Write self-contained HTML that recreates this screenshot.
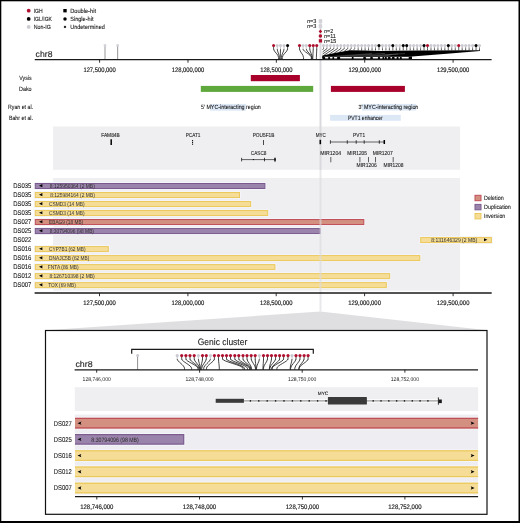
<!DOCTYPE html>
<html><head><meta charset="utf-8"><style>
html,body{margin:0;padding:0;background:#fff;}
svg{display:block;font-family:"Liberation Sans", sans-serif;will-change:transform;text-rendering:geometricPrecision;}
</style></head><body>
<svg width="520" height="523" viewBox="0 0 520 523">
<defs><clipPath id="cl1"><rect x="75" y="300" width="410" height="220"/></clipPath></defs>
<rect x="0.00" y="0.00" width="520.00" height="523.00" fill="#000" />
<rect x="1.30" y="1.30" width="517.20" height="519.70" fill="#fff" />
<circle cx="28.70" cy="10.70" r="1.90" fill="#b0102f"/>
<circle cx="28.70" cy="18.90" r="1.90" fill="#000"/>
<circle cx="28.70" cy="26.90" r="1.90" fill="#cbcbd2"/>
<text x="33.70" y="12.83" font-size="6.1" textLength="9.00" lengthAdjust="spacingAndGlyphs" fill="#1a1a1a" stroke="#1a1a1a" stroke-width="0.1">IGH</text>
<text x="33.70" y="21.03" font-size="6.1" textLength="18.30" lengthAdjust="spacingAndGlyphs" fill="#1a1a1a" stroke="#1a1a1a" stroke-width="0.1">IGL/IGK</text>
<text x="33.70" y="29.03" font-size="6.1" textLength="17.10" lengthAdjust="spacingAndGlyphs" fill="#1a1a1a" stroke="#1a1a1a" stroke-width="0.1">Non-IG</text>
<rect x="63.30" y="9.00" width="3.40" height="3.40" fill="#000" />
<circle cx="65.00" cy="18.90" r="1.75" fill="#000"/>
<polygon points="65,25.5 66.4,26.9 65,28.3 63.6,26.9" fill="#000"/>
<text x="70.20" y="12.83" font-size="6.1" textLength="25.80" lengthAdjust="spacingAndGlyphs" fill="#1a1a1a" stroke="#1a1a1a" stroke-width="0.1">Double-hit</text>
<text x="70.20" y="21.03" font-size="6.1" textLength="23.30" lengthAdjust="spacingAndGlyphs" fill="#1a1a1a" stroke="#1a1a1a" stroke-width="0.1">Single-hit</text>
<text x="70.20" y="29.03" font-size="6.1" textLength="34.60" lengthAdjust="spacingAndGlyphs" fill="#1a1a1a" stroke="#1a1a1a" stroke-width="0.1">Undetermined</text>
<text x="35.60" y="56.50" font-size="8.6" textLength="16.90" lengthAdjust="spacingAndGlyphs" fill="#1a1a1a" stroke="#1a1a1a" stroke-width="0.1">chr8</text>
<line x1="105.00" y1="45.50" x2="105.00" y2="59.60" stroke="#8a8a8a" stroke-width="0.9" />
<rect x="103.75" y="44.20" width="2.50" height="2.50" fill="#d2d2da" />
<line x1="117.65" y1="45.50" x2="117.65" y2="59.60" stroke="#8a8a8a" stroke-width="0.9" />
<rect x="116.40" y="44.20" width="2.50" height="2.50" fill="#d2d2da" />
<line x1="320.50" y1="19.00" x2="320.50" y2="126.50" stroke="#dadade" stroke-width="2.0" />
<path d="M273.60,49.00 C273.60,51.50 278.60,54.60 278.60,57.40 L278.60,59.60" fill="none" stroke="#1a1a1a" stroke-width="0.8"/>
<line x1="273.60" y1="46.50" x2="273.60" y2="49.30" stroke="#2a2a2a" stroke-width="0.8" />
<path d="M277.25,49.00 C277.25,51.50 279.40,54.60 279.40,57.40 L279.40,59.60" fill="none" stroke="#1a1a1a" stroke-width="0.8"/>
<line x1="277.25" y1="46.50" x2="277.25" y2="49.30" stroke="#b8b8bc" stroke-width="0.8" />
<path d="M280.50,49.00 C280.50,51.50 280.30,54.60 280.30,57.40 L280.30,59.60" fill="none" stroke="#1a1a1a" stroke-width="0.8"/>
<line x1="280.50" y1="46.50" x2="280.50" y2="49.30" stroke="#b8b8bc" stroke-width="0.8" />
<path d="M284.00,49.00 C284.00,51.50 281.40,54.60 281.40,57.40 L281.40,59.60" fill="none" stroke="#1a1a1a" stroke-width="0.8"/>
<line x1="284.00" y1="46.50" x2="284.00" y2="49.30" stroke="#b8b8bc" stroke-width="0.8" />
<path d="M287.60,49.00 C287.60,51.50 282.30,54.60 282.30,57.40 L282.30,59.60" fill="none" stroke="#1a1a1a" stroke-width="0.8"/>
<line x1="287.60" y1="46.50" x2="287.60" y2="49.30" stroke="#2a2a2a" stroke-width="0.8" />
<path d="M299.50,49.00 C299.50,51.50 303.50,54.60 303.50,57.40 L303.50,59.60" fill="none" stroke="#1a1a1a" stroke-width="0.8"/>
<line x1="299.50" y1="46.50" x2="299.50" y2="49.30" stroke="#2a2a2a" stroke-width="0.8" />
<path d="M303.00,49.00 C303.00,51.50 311.30,54.60 311.30,57.40 L311.30,59.60" fill="none" stroke="#1a1a1a" stroke-width="0.8"/>
<line x1="303.00" y1="46.50" x2="303.00" y2="49.30" stroke="#b8b8bc" stroke-width="0.8" />
<path d="M306.25,49.00 C306.25,51.50 311.70,54.60 311.70,57.40 L311.70,59.60" fill="none" stroke="#1a1a1a" stroke-width="0.8"/>
<line x1="306.25" y1="46.50" x2="306.25" y2="49.30" stroke="#b8b8bc" stroke-width="0.8" />
<path d="M309.75,49.00 C309.75,51.50 312.20,54.60 312.20,57.40 L312.20,59.60" fill="none" stroke="#1a1a1a" stroke-width="0.8"/>
<line x1="309.75" y1="46.50" x2="309.75" y2="49.30" stroke="#2a2a2a" stroke-width="0.8" />
<path d="M313.25,49.00 C313.25,51.50 312.80,54.60 312.80,57.40 L312.80,59.60" fill="none" stroke="#1a1a1a" stroke-width="0.8"/>
<line x1="313.25" y1="46.50" x2="313.25" y2="49.30" stroke="#2a2a2a" stroke-width="0.8" />
<path d="M316.75,49.00 C316.75,51.50 316.40,54.60 316.40,57.40 L316.40,59.60" fill="none" stroke="#1a1a1a" stroke-width="0.8"/>
<line x1="316.75" y1="46.50" x2="316.75" y2="49.30" stroke="#2a2a2a" stroke-width="0.8" />
<line x1="323.50" y1="46.50" x2="323.50" y2="49.00" stroke="#8a8a8e" stroke-width="0.8" />
<line x1="326.97" y1="46.50" x2="326.97" y2="49.00" stroke="#8a8a8e" stroke-width="0.8" />
<line x1="330.43" y1="46.50" x2="330.43" y2="49.00" stroke="#8a8a8e" stroke-width="0.8" />
<line x1="333.90" y1="46.50" x2="333.90" y2="49.00" stroke="#8a8a8e" stroke-width="0.8" />
<line x1="337.37" y1="46.50" x2="337.37" y2="49.00" stroke="#8a8a8e" stroke-width="0.8" />
<line x1="340.83" y1="46.50" x2="340.83" y2="49.00" stroke="#8a8a8e" stroke-width="0.8" />
<line x1="344.30" y1="46.50" x2="344.30" y2="49.00" stroke="#8a8a8e" stroke-width="0.8" />
<line x1="347.77" y1="46.50" x2="347.77" y2="49.00" stroke="#8a8a8e" stroke-width="0.8" />
<line x1="351.24" y1="46.50" x2="351.24" y2="49.00" stroke="#8a8a8e" stroke-width="0.8" />
<line x1="354.70" y1="46.50" x2="354.70" y2="49.00" stroke="#8a8a8e" stroke-width="0.8" />
<line x1="358.17" y1="46.50" x2="358.17" y2="48.30" stroke="#8a8a8e" stroke-width="0.8" />
<line x1="358.17" y1="48.30" x2="358.17" y2="50.40" stroke="#2a2a2a" stroke-width="0.8" />
<line x1="361.64" y1="46.50" x2="361.64" y2="48.30" stroke="#8a8a8e" stroke-width="0.8" />
<line x1="361.64" y1="48.30" x2="361.64" y2="50.40" stroke="#2a2a2a" stroke-width="0.8" />
<line x1="365.10" y1="46.50" x2="365.10" y2="48.30" stroke="#8a8a8e" stroke-width="0.8" />
<line x1="365.10" y1="48.30" x2="365.10" y2="50.40" stroke="#2a2a2a" stroke-width="0.8" />
<line x1="368.57" y1="46.50" x2="368.57" y2="48.30" stroke="#8a8a8e" stroke-width="0.8" />
<line x1="368.57" y1="48.30" x2="368.57" y2="50.40" stroke="#2a2a2a" stroke-width="0.8" />
<line x1="372.04" y1="46.50" x2="372.04" y2="48.30" stroke="#8a8a8e" stroke-width="0.8" />
<line x1="372.04" y1="48.30" x2="372.04" y2="50.40" stroke="#2a2a2a" stroke-width="0.8" />
<line x1="375.50" y1="46.50" x2="375.50" y2="48.30" stroke="#8a8a8e" stroke-width="0.8" />
<line x1="375.50" y1="48.30" x2="375.50" y2="50.40" stroke="#2a2a2a" stroke-width="0.8" />
<line x1="378.97" y1="46.50" x2="378.97" y2="48.30" stroke="#222" stroke-width="0.8" />
<line x1="378.97" y1="48.30" x2="378.97" y2="50.40" stroke="#2a2a2a" stroke-width="0.8" />
<line x1="382.44" y1="46.50" x2="382.44" y2="48.30" stroke="#8a8a8e" stroke-width="0.8" />
<line x1="382.44" y1="48.30" x2="382.44" y2="50.40" stroke="#2a2a2a" stroke-width="0.8" />
<line x1="385.91" y1="46.50" x2="385.91" y2="48.30" stroke="#8a8a8e" stroke-width="0.8" />
<line x1="385.91" y1="48.30" x2="385.91" y2="50.40" stroke="#2a2a2a" stroke-width="0.8" />
<line x1="389.37" y1="46.50" x2="389.37" y2="48.30" stroke="#8a8a8e" stroke-width="0.8" />
<line x1="389.37" y1="48.30" x2="389.37" y2="50.40" stroke="#2a2a2a" stroke-width="0.8" />
<line x1="392.84" y1="46.50" x2="392.84" y2="48.30" stroke="#222" stroke-width="0.8" />
<line x1="392.84" y1="48.30" x2="392.84" y2="50.40" stroke="#2a2a2a" stroke-width="0.8" />
<line x1="396.31" y1="46.50" x2="396.31" y2="48.30" stroke="#8a8a8e" stroke-width="0.8" />
<line x1="396.31" y1="48.30" x2="396.31" y2="50.40" stroke="#2a2a2a" stroke-width="0.8" />
<line x1="399.77" y1="46.50" x2="399.77" y2="48.30" stroke="#8a8a8e" stroke-width="0.8" />
<line x1="399.77" y1="48.30" x2="399.77" y2="50.40" stroke="#2a2a2a" stroke-width="0.8" />
<line x1="403.24" y1="46.50" x2="403.24" y2="48.30" stroke="#222" stroke-width="0.8" />
<line x1="403.24" y1="48.30" x2="403.24" y2="50.40" stroke="#2a2a2a" stroke-width="0.8" />
<line x1="406.71" y1="46.50" x2="406.71" y2="48.30" stroke="#222" stroke-width="0.8" />
<line x1="406.71" y1="48.30" x2="406.71" y2="50.40" stroke="#2a2a2a" stroke-width="0.8" />
<line x1="410.18" y1="46.50" x2="410.18" y2="48.30" stroke="#8a8a8e" stroke-width="0.8" />
<line x1="410.18" y1="48.30" x2="410.18" y2="50.40" stroke="#2a2a2a" stroke-width="0.8" />
<line x1="413.64" y1="46.50" x2="413.64" y2="48.30" stroke="#8a8a8e" stroke-width="0.8" />
<line x1="413.64" y1="48.30" x2="413.64" y2="50.40" stroke="#2a2a2a" stroke-width="0.8" />
<line x1="417.11" y1="46.50" x2="417.11" y2="48.30" stroke="#8a8a8e" stroke-width="0.8" />
<line x1="417.11" y1="48.30" x2="417.11" y2="50.40" stroke="#2a2a2a" stroke-width="0.8" />
<line x1="420.58" y1="46.50" x2="420.58" y2="48.30" stroke="#8a8a8e" stroke-width="0.8" />
<line x1="420.58" y1="48.30" x2="420.58" y2="50.40" stroke="#2a2a2a" stroke-width="0.8" />
<line x1="424.04" y1="46.50" x2="424.04" y2="48.30" stroke="#222" stroke-width="0.8" />
<line x1="424.04" y1="48.30" x2="424.04" y2="50.40" stroke="#2a2a2a" stroke-width="0.8" />
<line x1="427.51" y1="46.50" x2="427.51" y2="48.30" stroke="#222" stroke-width="0.8" />
<line x1="427.51" y1="48.30" x2="427.51" y2="50.40" stroke="#2a2a2a" stroke-width="0.8" />
<line x1="430.98" y1="46.50" x2="430.98" y2="48.30" stroke="#8a8a8e" stroke-width="0.8" />
<line x1="430.98" y1="48.30" x2="430.98" y2="50.40" stroke="#2a2a2a" stroke-width="0.8" />
<line x1="434.44" y1="46.50" x2="434.44" y2="48.30" stroke="#8a8a8e" stroke-width="0.8" />
<line x1="434.44" y1="48.30" x2="434.44" y2="50.40" stroke="#2a2a2a" stroke-width="0.8" />
<line x1="437.91" y1="46.50" x2="437.91" y2="48.30" stroke="#8a8a8e" stroke-width="0.8" />
<line x1="437.91" y1="48.30" x2="437.91" y2="50.40" stroke="#2a2a2a" stroke-width="0.8" />
<line x1="441.38" y1="46.50" x2="441.38" y2="48.30" stroke="#8a8a8e" stroke-width="0.8" />
<line x1="441.38" y1="48.30" x2="441.38" y2="50.40" stroke="#2a2a2a" stroke-width="0.8" />
<line x1="444.85" y1="46.50" x2="444.85" y2="48.30" stroke="#8a8a8e" stroke-width="0.8" />
<line x1="444.85" y1="48.30" x2="444.85" y2="50.40" stroke="#2a2a2a" stroke-width="0.8" />
<line x1="448.31" y1="46.50" x2="448.31" y2="48.30" stroke="#222" stroke-width="0.8" />
<line x1="448.31" y1="48.30" x2="448.31" y2="50.40" stroke="#2a2a2a" stroke-width="0.8" />
<line x1="451.78" y1="46.50" x2="451.78" y2="48.30" stroke="#8a8a8e" stroke-width="0.8" />
<line x1="451.78" y1="48.30" x2="451.78" y2="50.40" stroke="#2a2a2a" stroke-width="0.8" />
<line x1="455.25" y1="46.50" x2="455.25" y2="48.30" stroke="#8a8a8e" stroke-width="0.8" />
<line x1="455.25" y1="48.30" x2="455.25" y2="50.40" stroke="#2a2a2a" stroke-width="0.8" />
<line x1="458.71" y1="46.50" x2="458.71" y2="48.30" stroke="#222" stroke-width="0.8" />
<line x1="458.71" y1="48.30" x2="458.71" y2="50.40" stroke="#2a2a2a" stroke-width="0.8" />
<line x1="462.18" y1="46.50" x2="462.18" y2="48.30" stroke="#8a8a8e" stroke-width="0.8" />
<line x1="462.18" y1="48.30" x2="462.18" y2="50.40" stroke="#2a2a2a" stroke-width="0.8" />
<line x1="465.65" y1="46.50" x2="465.65" y2="48.30" stroke="#8a8a8e" stroke-width="0.8" />
<line x1="465.65" y1="48.30" x2="465.65" y2="50.40" stroke="#2a2a2a" stroke-width="0.8" />
<line x1="469.11" y1="46.50" x2="469.11" y2="48.30" stroke="#8a8a8e" stroke-width="0.8" />
<line x1="469.11" y1="48.30" x2="469.11" y2="50.40" stroke="#2a2a2a" stroke-width="0.8" />
<line x1="472.58" y1="46.50" x2="472.58" y2="48.30" stroke="#8a8a8e" stroke-width="0.8" />
<line x1="472.58" y1="48.30" x2="472.58" y2="50.40" stroke="#2a2a2a" stroke-width="0.8" />
<line x1="476.05" y1="46.50" x2="476.05" y2="48.30" stroke="#222" stroke-width="0.8" />
<line x1="476.05" y1="48.30" x2="476.05" y2="50.40" stroke="#2a2a2a" stroke-width="0.8" />
<line x1="479.51" y1="46.50" x2="479.51" y2="48.30" stroke="#8a8a8e" stroke-width="0.8" />
<line x1="479.51" y1="48.30" x2="479.51" y2="50.40" stroke="#2a2a2a" stroke-width="0.8" />
<polygon points="322.3,55.4 336,52.8 350,50.3 365,50.5 380,51.0 393,50.8 420,50.5 480,50.2 480,50.9 450,53.6 412,56.4 324,56.6 322.3,59" fill="#000"/>
<line x1="323.50" y1="48.6" x2="322.60" y2="49.84" stroke="#111" stroke-width="0.7"/>
<line x1="326.97" y1="48.6" x2="322.60" y2="51.92" stroke="#111" stroke-width="0.7"/>
<line x1="330.43" y1="48.6" x2="322.60" y2="54.00" stroke="#111" stroke-width="0.7"/>
<line x1="333.90" y1="48.6" x2="323.53" y2="55.52" stroke="#111" stroke-width="0.7"/>
<line x1="337.37" y1="48.6" x2="328.55" y2="54.59" stroke="#111" stroke-width="0.7"/>
<line x1="340.83" y1="48.6" x2="333.58" y2="53.65" stroke="#111" stroke-width="0.7"/>
<line x1="344.30" y1="48.6" x2="338.60" y2="52.72" stroke="#111" stroke-width="0.7"/>
<line x1="347.77" y1="48.6" x2="343.63" y2="51.79" stroke="#111" stroke-width="0.7"/>
<line x1="351.24" y1="48.6" x2="348.65" y2="50.85" stroke="#111" stroke-width="0.7"/>
<line x1="354.70" y1="48.6" x2="353.68" y2="49.92" stroke="#111" stroke-width="0.7"/>
<line x1="405.00" y1="53.60" x2="356.00" y2="56.40" stroke="#777" stroke-width="0.45" />
<line x1="398.00" y1="54.00" x2="372.00" y2="56.40" stroke="#777" stroke-width="0.45" />
<line x1="392.00" y1="54.40" x2="384.00" y2="56.40" stroke="#777" stroke-width="0.45" />
<line x1="385.00" y1="53.40" x2="345.00" y2="56.20" stroke="#777" stroke-width="0.45" />
<line x1="372.00" y1="53.60" x2="335.00" y2="56.20" stroke="#777" stroke-width="0.45" />
<rect x="322.50" y="56.40" width="89.50" height="2.80" fill="#000" />
<rect x="324.90" y="57.05" width="3.50" height="1.45" fill="#fff" rx="0.7"/>
<rect x="329.80" y="57.05" width="2.90" height="1.45" fill="#fff" rx="0.7"/>
<rect x="333.90" y="57.05" width="3.40" height="1.45" fill="#fff" rx="0.7"/>
<rect x="339.90" y="57.05" width="12.10" height="1.45" fill="#fff" rx="0.7"/>
<rect x="353.30" y="57.05" width="10.20" height="1.45" fill="#fff" rx="0.7"/>
<rect x="365.70" y="57.05" width="4.80" height="1.45" fill="#fff" rx="0.7"/>
<rect x="372.60" y="57.05" width="5.60" height="1.45" fill="#fff" rx="0.7"/>
<rect x="379.80" y="57.05" width="2.90" height="1.45" fill="#fff" rx="0.7"/>
<rect x="384.10" y="57.05" width="1.00" height="1.45" fill="#fff" rx="0.7"/>
<rect x="386.60" y="57.05" width="1.60" height="1.45" fill="#fff" rx="0.7"/>
<rect x="390.30" y="57.05" width="1.90" height="1.45" fill="#fff" rx="0.7"/>
<rect x="394.30" y="57.05" width="2.60" height="1.45" fill="#fff" rx="0.7"/>
<rect x="398.30" y="57.05" width="1.80" height="1.45" fill="#fff" rx="0.7"/>
<rect x="401.50" y="57.05" width="7.40" height="1.45" fill="#fff" rx="0.7"/>
<circle cx="273.60" cy="45.50" r="1.55" fill="#b0102f"/>
<circle cx="277.25" cy="45.50" r="1.55" fill="#cbcbd2"/>
<circle cx="280.50" cy="45.50" r="1.55" fill="#cbcbd2"/>
<circle cx="284.00" cy="45.50" r="1.55" fill="#cbcbd2"/>
<circle cx="287.60" cy="45.50" r="1.55" fill="#000"/>
<circle cx="299.50" cy="45.50" r="1.55" fill="#b0102f"/>
<circle cx="303.00" cy="45.50" r="1.55" fill="#cbcbd2"/>
<circle cx="306.25" cy="45.50" r="1.55" fill="#cbcbd2"/>
<circle cx="309.75" cy="45.50" r="1.55" fill="#b0102f"/>
<circle cx="313.25" cy="45.50" r="1.55" fill="#b0102f"/>
<circle cx="316.75" cy="45.50" r="1.55" fill="#b0102f"/>
<circle cx="323.50" cy="45.50" r="1.55" fill="#cbcbd2"/>
<circle cx="326.97" cy="45.50" r="1.55" fill="#cbcbd2"/>
<circle cx="330.43" cy="45.50" r="1.55" fill="#cbcbd2"/>
<circle cx="333.90" cy="45.50" r="1.55" fill="#cbcbd2"/>
<circle cx="337.37" cy="45.50" r="1.55" fill="#cbcbd2"/>
<circle cx="340.83" cy="45.50" r="1.55" fill="#cbcbd2"/>
<circle cx="344.30" cy="45.50" r="1.55" fill="#cbcbd2"/>
<circle cx="347.77" cy="45.50" r="1.55" fill="#cbcbd2"/>
<circle cx="351.24" cy="45.50" r="1.55" fill="#cbcbd2"/>
<circle cx="354.70" cy="45.50" r="1.55" fill="#cbcbd2"/>
<circle cx="358.17" cy="45.50" r="1.55" fill="#cbcbd2"/>
<circle cx="361.64" cy="45.50" r="1.55" fill="#cbcbd2"/>
<circle cx="365.10" cy="45.50" r="1.55" fill="#cbcbd2"/>
<circle cx="368.57" cy="45.50" r="1.55" fill="#cbcbd2"/>
<circle cx="372.04" cy="45.50" r="1.55" fill="#cbcbd2"/>
<circle cx="375.50" cy="45.50" r="1.55" fill="#cbcbd2"/>
<circle cx="378.97" cy="45.50" r="1.55" fill="#000"/>
<circle cx="382.44" cy="45.50" r="1.55" fill="#cbcbd2"/>
<circle cx="385.91" cy="45.50" r="1.55" fill="#cbcbd2"/>
<circle cx="389.37" cy="45.50" r="1.55" fill="#cbcbd2"/>
<circle cx="392.84" cy="45.50" r="1.55" fill="#000"/>
<circle cx="396.31" cy="45.50" r="1.55" fill="#cbcbd2"/>
<circle cx="399.77" cy="45.50" r="1.55" fill="#cbcbd2"/>
<circle cx="403.24" cy="45.50" r="1.55" fill="#000"/>
<circle cx="406.71" cy="45.50" r="1.55" fill="#000"/>
<circle cx="410.18" cy="45.50" r="1.55" fill="#cbcbd2"/>
<circle cx="413.64" cy="45.50" r="1.55" fill="#cbcbd2"/>
<circle cx="417.11" cy="45.50" r="1.55" fill="#cbcbd2"/>
<circle cx="420.58" cy="45.50" r="1.55" fill="#cbcbd2"/>
<circle cx="424.04" cy="45.50" r="1.55" fill="#000"/>
<circle cx="427.51" cy="45.50" r="1.55" fill="#b0102f"/>
<circle cx="430.98" cy="45.50" r="1.55" fill="#cbcbd2"/>
<circle cx="434.44" cy="45.50" r="1.55" fill="#cbcbd2"/>
<circle cx="437.91" cy="45.50" r="1.55" fill="#cbcbd2"/>
<circle cx="441.38" cy="45.50" r="1.55" fill="#cbcbd2"/>
<circle cx="444.85" cy="45.50" r="1.55" fill="#cbcbd2"/>
<circle cx="448.31" cy="45.50" r="1.55" fill="#000"/>
<circle cx="451.78" cy="45.50" r="1.55" fill="#cbcbd2"/>
<circle cx="455.25" cy="45.50" r="1.55" fill="#cbcbd2"/>
<circle cx="458.71" cy="45.50" r="1.55" fill="#b0102f"/>
<circle cx="462.18" cy="45.50" r="1.55" fill="#cbcbd2"/>
<circle cx="465.65" cy="45.50" r="1.55" fill="#cbcbd2"/>
<circle cx="469.11" cy="45.50" r="1.55" fill="#cbcbd2"/>
<circle cx="472.58" cy="45.50" r="1.55" fill="#cbcbd2"/>
<circle cx="476.05" cy="45.50" r="1.55" fill="#000"/>
<circle cx="479.51" cy="45.50" r="1.55" fill="#cbcbd2"/>
<line x1="34.75" y1="59.60" x2="491.60" y2="59.60" stroke="#1a1a1a" stroke-width="1.3" />
<line x1="99.60" y1="59.60" x2="99.60" y2="62.70" stroke="#1a1a1a" stroke-width="0.9" />
<text x="83.40" y="71.61" font-size="6.6" textLength="32.40" lengthAdjust="spacingAndGlyphs" fill="#1a1a1a" stroke="#1a1a1a" stroke-width="0.18">127,500,000</text>
<line x1="187.97" y1="59.60" x2="187.97" y2="62.70" stroke="#1a1a1a" stroke-width="0.9" />
<text x="171.78" y="71.61" font-size="6.6" textLength="32.40" lengthAdjust="spacingAndGlyphs" fill="#1a1a1a" stroke="#1a1a1a" stroke-width="0.18">128,000,000</text>
<line x1="276.35" y1="59.60" x2="276.35" y2="62.70" stroke="#1a1a1a" stroke-width="0.9" />
<text x="260.15" y="71.61" font-size="6.6" textLength="32.40" lengthAdjust="spacingAndGlyphs" fill="#1a1a1a" stroke="#1a1a1a" stroke-width="0.18">128,500,000</text>
<line x1="364.73" y1="59.60" x2="364.73" y2="62.70" stroke="#1a1a1a" stroke-width="0.9" />
<text x="348.53" y="71.61" font-size="6.6" textLength="32.40" lengthAdjust="spacingAndGlyphs" fill="#1a1a1a" stroke="#1a1a1a" stroke-width="0.18">129,000,000</text>
<line x1="453.10" y1="59.60" x2="453.10" y2="62.70" stroke="#1a1a1a" stroke-width="0.9" />
<text x="436.90" y="71.61" font-size="6.6" textLength="32.40" lengthAdjust="spacingAndGlyphs" fill="#1a1a1a" stroke="#1a1a1a" stroke-width="0.18">129,500,000</text>
<rect x="318.70" y="19.30" width="3.50" height="3.60" fill="#d2d2d8" />
<rect x="318.70" y="24.30" width="3.50" height="3.60" fill="#d2d2d8" />
<polygon points="320.4,29.6 322.2,31.4 320.4,33.2 318.6,31.4" fill="#b0102f"/>
<circle cx="320.40" cy="36.00" r="1.75" fill="#b0102f"/>
<rect x="318.80" y="39.20" width="3.30" height="3.30" fill="#b0102f" />
<text x="306.90" y="23.30" font-size="5.7" textLength="9.40" lengthAdjust="spacingAndGlyphs" fill="#1a1a1a" stroke="#1a1a1a" stroke-width="0.1"><tspan font-style="italic">n</tspan>=3</text>
<text x="306.90" y="28.10" font-size="5.7" textLength="9.40" lengthAdjust="spacingAndGlyphs" fill="#1a1a1a" stroke="#1a1a1a" stroke-width="0.1"><tspan font-style="italic">n</tspan>=3</text>
<text x="324.10" y="33.39" font-size="5.7" textLength="9.00" lengthAdjust="spacingAndGlyphs" fill="#1a1a1a" stroke="#1a1a1a" stroke-width="0.1"><tspan font-style="italic">n</tspan>=2</text>
<text x="324.10" y="38.09" font-size="5.7" textLength="11.70" lengthAdjust="spacingAndGlyphs" fill="#1a1a1a" stroke="#1a1a1a" stroke-width="0.1"><tspan font-style="italic">n</tspan>=11</text>
<text x="324.10" y="42.89" font-size="5.7" textLength="12.10" lengthAdjust="spacingAndGlyphs" fill="#1a1a1a" stroke="#1a1a1a" stroke-width="0.1"><tspan font-style="italic">n</tspan>=15</text>
<text x="19.20" y="80.14" font-size="6.1" textLength="12.40" lengthAdjust="spacingAndGlyphs" fill="#1a1a1a" stroke="#1a1a1a" stroke-width="0.1">Vysis</text>
<text x="19.00" y="91.34" font-size="6.1" textLength="12.60" lengthAdjust="spacingAndGlyphs" fill="#1a1a1a" stroke="#1a1a1a" stroke-width="0.1">Dako</text>
<text x="8.00" y="109.34" font-size="6.1" textLength="25.00" lengthAdjust="spacingAndGlyphs" fill="#1a1a1a" stroke="#1a1a1a" stroke-width="0.1">Ryan et al.</text>
<text x="8.90" y="120.14" font-size="6.1" textLength="24.10" lengthAdjust="spacingAndGlyphs" fill="#1a1a1a" stroke="#1a1a1a" stroke-width="0.1">Bahr et al.</text>
<rect x="250.80" y="75.00" width="49.10" height="6.20" fill="#a8002b" />
<rect x="200.80" y="85.90" width="112.40" height="6.00" fill="#5fa83c" />
<rect x="330.90" y="85.90" width="74.00" height="6.00" fill="#a8002b" />
<rect x="210.00" y="103.90" width="36.00" height="6.80" fill="#dde8f6" />
<rect x="361.90" y="103.90" width="54.30" height="6.60" fill="#dde8f6" />
<rect x="330.10" y="114.90" width="70.70" height="5.90" fill="#dde8f6" />
<text x="201.00" y="109.44" font-size="6.1" textLength="59.80" lengthAdjust="spacingAndGlyphs" fill="#1a1a1a" stroke="#1a1a1a" stroke-width="0.1">5' MYC-interacting region</text>
<text x="358.50" y="109.44" font-size="6.1" textLength="59.80" lengthAdjust="spacingAndGlyphs" fill="#1a1a1a" stroke="#1a1a1a" stroke-width="0.1">3' MYC-interacting region</text>
<text x="347.90" y="120.23" font-size="6.1" textLength="34.90" lengthAdjust="spacingAndGlyphs" fill="#1a1a1a" stroke="#1a1a1a" stroke-width="0.1">PVT1 enhancer</text>
<rect x="53.10" y="126.50" width="406.90" height="43.30" fill="#efeff2" />
<line x1="320.50" y1="126.00" x2="320.50" y2="170.00" stroke="#dadade" stroke-width="2.0" />
<text x="101.20" y="137.43" font-size="5.8" textLength="18.60" lengthAdjust="spacingAndGlyphs" fill="#1a1a1a" stroke="#1a1a1a" stroke-width="0.1">FAM84B</text>
<line x1="111.20" y1="139.20" x2="111.20" y2="145.00" stroke="#000" stroke-width="1.5" />
<text x="185.70" y="137.43" font-size="5.8" textLength="14.80" lengthAdjust="spacingAndGlyphs" fill="#1a1a1a" stroke="#1a1a1a" stroke-width="0.1">PCAT1</text>
<line x1="192.60" y1="140.00" x2="192.60" y2="145.30" stroke="#000" stroke-width="1.0" stroke-dasharray="1.2 0.6"/>
<text x="252.70" y="137.43" font-size="5.8" textLength="21.70" lengthAdjust="spacingAndGlyphs" fill="#1a1a1a" stroke="#1a1a1a" stroke-width="0.1">POU5F1B</text>
<line x1="263.50" y1="140.00" x2="263.50" y2="145.00" stroke="#000" stroke-width="0.7" />
<text x="250.80" y="155.43" font-size="5.8" textLength="15.70" lengthAdjust="spacingAndGlyphs" fill="#1a1a1a" stroke="#1a1a1a" stroke-width="0.1">CASC8</text>
<line x1="241.60" y1="159.60" x2="275.80" y2="159.60" stroke="#000" stroke-width="0.6" />
<line x1="241.60" y1="157.80" x2="241.60" y2="161.40" stroke="#000" stroke-width="0.7" />
<line x1="264.50" y1="157.80" x2="264.50" y2="161.40" stroke="#000" stroke-width="0.7" />
<line x1="253.40" y1="159.10" x2="253.40" y2="160.10" stroke="#000" stroke-width="1.0" />
<line x1="275.00" y1="157.80" x2="275.00" y2="161.40" stroke="#000" stroke-width="1.4" />
<text x="315.70" y="137.43" font-size="5.8" textLength="10.20" lengthAdjust="spacingAndGlyphs" fill="#1a1a1a" stroke="#1a1a1a" stroke-width="0.1">MYC</text>
<line x1="320.30" y1="139.80" x2="320.30" y2="144.20" stroke="#000" stroke-width="1.6" />
<text x="353.10" y="137.43" font-size="5.8" textLength="12.00" lengthAdjust="spacingAndGlyphs" fill="#1a1a1a" stroke="#1a1a1a" stroke-width="0.1">PVT1</text>
<line x1="330.40" y1="142.00" x2="385.00" y2="142.00" stroke="#000" stroke-width="0.6" />
<line x1="330.40" y1="140.20" x2="330.40" y2="143.80" stroke="#000" stroke-width="0.7" />
<line x1="347.30" y1="140.20" x2="347.30" y2="143.80" stroke="#000" stroke-width="0.7" />
<line x1="356.20" y1="140.20" x2="356.20" y2="143.80" stroke="#000" stroke-width="0.7" />
<line x1="364.20" y1="140.20" x2="364.20" y2="143.80" stroke="#000" stroke-width="0.7" />
<line x1="379.30" y1="140.20" x2="379.30" y2="143.80" stroke="#000" stroke-width="0.7" />
<line x1="384.30" y1="140.00" x2="384.30" y2="144.00" stroke="#000" stroke-width="1.5" />
<text x="320.30" y="155.23" font-size="5.8" textLength="20.80" lengthAdjust="spacingAndGlyphs" fill="#1a1a1a" stroke="#1a1a1a" stroke-width="0.1">MIR1204</text>
<text x="347.30" y="155.23" font-size="5.8" textLength="19.70" lengthAdjust="spacingAndGlyphs" fill="#1a1a1a" stroke="#1a1a1a" stroke-width="0.1">MIR1205</text>
<text x="372.70" y="155.23" font-size="5.8" textLength="20.10" lengthAdjust="spacingAndGlyphs" fill="#1a1a1a" stroke="#1a1a1a" stroke-width="0.1">MIR1207</text>
<text x="356.60" y="167.43" font-size="5.8" textLength="20.10" lengthAdjust="spacingAndGlyphs" fill="#1a1a1a" stroke="#1a1a1a" stroke-width="0.1">MIR1206</text>
<text x="383.60" y="167.43" font-size="5.8" textLength="19.90" lengthAdjust="spacingAndGlyphs" fill="#1a1a1a" stroke="#1a1a1a" stroke-width="0.1">MIR1208</text>
<line x1="330.80" y1="157.00" x2="330.80" y2="162.30" stroke="#000" stroke-width="0.6" />
<line x1="359.90" y1="157.00" x2="359.90" y2="162.30" stroke="#000" stroke-width="0.6" />
<line x1="368.50" y1="157.00" x2="368.50" y2="162.30" stroke="#000" stroke-width="0.6" />
<line x1="375.50" y1="157.00" x2="375.50" y2="162.30" stroke="#000" stroke-width="0.6" />
<line x1="393.20" y1="157.00" x2="393.20" y2="162.30" stroke="#000" stroke-width="0.6" />
<rect x="53.10" y="178.00" width="406.90" height="112.70" fill="#efeff2" />
<text x="13.20" y="188.08" font-size="6.8" textLength="18.20" lengthAdjust="spacingAndGlyphs" fill="#1a1a1a" stroke="#1a1a1a" stroke-width="0.1">DS035</text>
<rect x="33.90" y="182.10" width="232.40" height="7.80" fill="#f4f5fa" />
<rect x="35.30" y="183.50" width="229.60" height="5.00" fill="#9b84ab" stroke="#7a5a8e" stroke-width="1.0" />
<polygon points="39.0,185.70 42.4,184.10 42.4,187.30" fill="#000"/>
<text x="49.80" y="187.76" font-size="5.9" textLength="45.00" lengthAdjust="spacingAndGlyphs" fill="#2a2a2a">8:125950364 (2 MB)</text>
<text x="13.20" y="197.09" font-size="6.8" textLength="18.20" lengthAdjust="spacingAndGlyphs" fill="#1a1a1a" stroke="#1a1a1a" stroke-width="0.1">DS035</text>
<rect x="33.90" y="191.11" width="207.00" height="7.80" fill="#f4f5fa" />
<rect x="35.30" y="192.51" width="204.20" height="5.00" fill="#f5dd98" stroke="#ecc95c" stroke-width="1.0" />
<polygon points="39.0,194.71 42.4,193.11 42.4,196.31" fill="#000"/>
<text x="50.20" y="196.77" font-size="5.9" textLength="44.60" lengthAdjust="spacingAndGlyphs" fill="#2a2a2a">8:125984164 (2 MB)</text>
<text x="13.20" y="206.10" font-size="6.8" textLength="18.20" lengthAdjust="spacingAndGlyphs" fill="#1a1a1a" stroke="#1a1a1a" stroke-width="0.1">DS035</text>
<rect x="33.90" y="200.12" width="218.20" height="7.80" fill="#f4f5fa" />
<rect x="35.30" y="201.52" width="215.40" height="5.00" fill="#f5dd98" stroke="#ecc95c" stroke-width="1.0" />
<polygon points="39.0,203.72 42.4,202.12 42.4,205.32" fill="#000"/>
<text x="49.10" y="205.78" font-size="5.9" textLength="35.40" lengthAdjust="spacingAndGlyphs" fill="#2a2a2a">CSMD3 (14 MB)</text>
<text x="13.20" y="215.11" font-size="6.8" textLength="18.20" lengthAdjust="spacingAndGlyphs" fill="#1a1a1a" stroke="#1a1a1a" stroke-width="0.1">DS035</text>
<rect x="33.90" y="209.13" width="235.20" height="7.80" fill="#f4f5fa" />
<rect x="35.30" y="210.53" width="232.40" height="5.00" fill="#f5dd98" stroke="#ecc95c" stroke-width="1.0" />
<polygon points="39.0,212.73 42.4,211.13 42.4,214.33" fill="#000"/>
<text x="49.10" y="214.79" font-size="5.9" textLength="35.40" lengthAdjust="spacingAndGlyphs" fill="#2a2a2a">CSMD3 (14 MB)</text>
<text x="13.20" y="224.12" font-size="6.8" textLength="18.20" lengthAdjust="spacingAndGlyphs" fill="#1a1a1a" stroke="#1a1a1a" stroke-width="0.1">DS027</text>
<rect x="33.90" y="218.14" width="331.30" height="7.80" fill="#f4f5fa" />
<rect x="35.30" y="219.54" width="328.50" height="5.00" fill="#d38f80" stroke="#c04e58" stroke-width="1.0" />
<polygon points="39.0,221.74 42.4,220.14 42.4,223.34" fill="#000"/>
<text x="49.10" y="223.80" font-size="5.9" textLength="34.10" lengthAdjust="spacingAndGlyphs" fill="#2a2a2a">EBAG9 (18 MB)</text>
<text x="13.20" y="233.13" font-size="6.8" textLength="18.20" lengthAdjust="spacingAndGlyphs" fill="#1a1a1a" stroke="#1a1a1a" stroke-width="0.1">DS025</text>
<rect x="33.90" y="227.15" width="287.60" height="7.80" fill="#f4f5fa" />
<rect x="35.30" y="228.55" width="284.80" height="5.00" fill="#9b84ab" stroke="#7a5a8e" stroke-width="1.0" />
<polygon points="39.0,230.75 42.4,229.15 42.4,232.35" fill="#000"/>
<text x="49.80" y="232.81" font-size="5.9" textLength="44.20" lengthAdjust="spacingAndGlyphs" fill="#2a2a2a">8:30794096 (98 MB)</text>
<text x="13.20" y="242.14" font-size="6.8" textLength="18.20" lengthAdjust="spacingAndGlyphs" fill="#1a1a1a" stroke="#1a1a1a" stroke-width="0.1">DS022</text>
<text x="13.20" y="251.15" font-size="6.8" textLength="18.20" lengthAdjust="spacingAndGlyphs" fill="#1a1a1a" stroke="#1a1a1a" stroke-width="0.1">DS016</text>
<rect x="33.90" y="245.17" width="75.80" height="7.80" fill="#f4f5fa" />
<rect x="35.30" y="246.57" width="73.00" height="5.00" fill="#f5dd98" stroke="#ecc95c" stroke-width="1.0" />
<polygon points="39.0,248.77 42.4,247.17 42.4,250.37" fill="#000"/>
<text x="49.10" y="250.83" font-size="5.9" textLength="36.40" lengthAdjust="spacingAndGlyphs" fill="#2a2a2a">CYP7B1 (62 MB)</text>
<text x="13.20" y="260.16" font-size="6.8" textLength="18.20" lengthAdjust="spacingAndGlyphs" fill="#1a1a1a" stroke="#1a1a1a" stroke-width="0.1">DS016</text>
<rect x="33.90" y="254.18" width="387.30" height="7.80" fill="#f4f5fa" />
<rect x="35.30" y="255.58" width="384.50" height="5.00" fill="#f5dd98" stroke="#ecc95c" stroke-width="1.0" />
<polygon points="39.0,257.78 42.4,256.18 42.4,259.38" fill="#000"/>
<text x="49.10" y="259.84" font-size="5.9" textLength="40.30" lengthAdjust="spacingAndGlyphs" fill="#2a2a2a">DNAJC5B (62 MB)</text>
<text x="13.20" y="269.17" font-size="6.8" textLength="18.20" lengthAdjust="spacingAndGlyphs" fill="#1a1a1a" stroke="#1a1a1a" stroke-width="0.1">DS016</text>
<rect x="33.90" y="263.19" width="242.40" height="7.80" fill="#f4f5fa" />
<rect x="35.30" y="264.59" width="239.60" height="5.00" fill="#f5dd98" stroke="#ecc95c" stroke-width="1.0" />
<polygon points="39.0,266.79 42.4,265.19 42.4,268.39" fill="#000"/>
<text x="47.80" y="268.85" font-size="5.9" textLength="30.80" lengthAdjust="spacingAndGlyphs" fill="#2a2a2a">FNTA (86 MB)</text>
<text x="13.20" y="278.18" font-size="6.8" textLength="18.20" lengthAdjust="spacingAndGlyphs" fill="#1a1a1a" stroke="#1a1a1a" stroke-width="0.1">DS012</text>
<rect x="33.90" y="272.20" width="357.20" height="7.80" fill="#f4f5fa" />
<rect x="35.30" y="273.60" width="354.40" height="5.00" fill="#f5dd98" stroke="#ecc95c" stroke-width="1.0" />
<polygon points="39.0,275.80 42.4,274.20 42.4,277.40" fill="#000"/>
<text x="49.40" y="277.86" font-size="5.9" textLength="45.40" lengthAdjust="spacingAndGlyphs" fill="#2a2a2a">8:126710398 (2 MB)</text>
<text x="13.20" y="287.19" font-size="6.8" textLength="18.20" lengthAdjust="spacingAndGlyphs" fill="#1a1a1a" stroke="#1a1a1a" stroke-width="0.1">DS007</text>
<rect x="33.90" y="281.21" width="353.80" height="7.80" fill="#f4f5fa" />
<rect x="35.30" y="282.61" width="351.00" height="5.00" fill="#f5dd98" stroke="#ecc95c" stroke-width="1.0" />
<polygon points="39.0,284.81 42.4,283.21 42.4,286.41" fill="#000"/>
<text x="48.20" y="286.88" font-size="5.9" textLength="27.60" lengthAdjust="spacingAndGlyphs" fill="#2a2a2a">TOX (69 MB)</text>
<rect x="419.30" y="236.16" width="73.50" height="7.80" fill="#f4f5fa" />
<rect x="420.70" y="237.56" width="70.70" height="5.00" fill="#f5dd98" stroke="#ecc95c" stroke-width="1.0" />
<text x="431.20" y="241.82" font-size="5.9" textLength="46.10" lengthAdjust="spacingAndGlyphs" fill="#2a2a2a">8:131646329 (2 MB)</text>
<polygon points="487.4,239.76 484.0,238.16 484.0,241.36" fill="#000"/>
<rect x="475.00" y="195.30" width="6.00" height="5.40" fill="#d38f80" stroke="#c04e58" stroke-width="1.0" />
<text x="484.00" y="199.87" font-size="6.2" textLength="19.70" lengthAdjust="spacingAndGlyphs" fill="#1a1a1a" stroke="#1a1a1a" stroke-width="0.1">Deletion</text>
<rect x="475.00" y="204.40" width="6.00" height="5.40" fill="#9b84ab" stroke="#7a5a8e" stroke-width="1.0" />
<text x="484.00" y="208.97" font-size="6.2" textLength="26.90" lengthAdjust="spacingAndGlyphs" fill="#1a1a1a" stroke="#1a1a1a" stroke-width="0.1">Duplication</text>
<rect x="475.00" y="213.50" width="6.00" height="5.40" fill="#f5dd98" stroke="#ecc95c" stroke-width="1.0" />
<text x="484.00" y="218.07" font-size="6.2" textLength="21.20" lengthAdjust="spacingAndGlyphs" fill="#1a1a1a" stroke="#1a1a1a" stroke-width="0.1">Inversion</text>
<line x1="320.50" y1="170.00" x2="320.50" y2="311.50" stroke="#dadade" stroke-width="2.0" opacity="0.6"/>
<line x1="34.60" y1="293.10" x2="491.70" y2="293.10" stroke="#1a1a1a" stroke-width="1.5" />
<line x1="99.50" y1="293.10" x2="99.50" y2="296.20" stroke="#1a1a1a" stroke-width="0.9" />
<text x="83.20" y="305.21" font-size="6.6" textLength="32.60" lengthAdjust="spacingAndGlyphs" fill="#1a1a1a" stroke="#1a1a1a" stroke-width="0.18">127,500,000</text>
<line x1="187.90" y1="293.10" x2="187.90" y2="296.20" stroke="#1a1a1a" stroke-width="0.9" />
<text x="171.60" y="305.21" font-size="6.6" textLength="32.60" lengthAdjust="spacingAndGlyphs" fill="#1a1a1a" stroke="#1a1a1a" stroke-width="0.18">128,000,000</text>
<line x1="276.20" y1="293.10" x2="276.20" y2="296.20" stroke="#1a1a1a" stroke-width="0.9" />
<text x="259.90" y="305.21" font-size="6.6" textLength="32.60" lengthAdjust="spacingAndGlyphs" fill="#1a1a1a" stroke="#1a1a1a" stroke-width="0.18">128,500,000</text>
<line x1="364.60" y1="293.10" x2="364.60" y2="296.20" stroke="#1a1a1a" stroke-width="0.9" />
<text x="348.30" y="305.21" font-size="6.6" textLength="32.60" lengthAdjust="spacingAndGlyphs" fill="#1a1a1a" stroke="#1a1a1a" stroke-width="0.18">129,000,000</text>
<line x1="453.10" y1="293.10" x2="453.10" y2="296.20" stroke="#1a1a1a" stroke-width="0.9" />
<text x="436.80" y="305.21" font-size="6.6" textLength="32.60" lengthAdjust="spacingAndGlyphs" fill="#1a1a1a" stroke="#1a1a1a" stroke-width="0.18">129,500,000</text>
<polygon points="320.4,311.5 487,330.2 45.5,330.2" fill="#dfdfe2"/>
<rect x="45.50" y="330.50" width="441.50" height="183.80" fill="#fff" stroke="#111" stroke-width="1.2" />
<text x="75.40" y="366.90" font-size="8.6" textLength="17.30" lengthAdjust="spacingAndGlyphs" fill="#1a1a1a" stroke="#1a1a1a" stroke-width="0.1">chr8</text>
<polyline points="131.7,353.8 131.7,349.3 313.3,349.3 313.3,353.8" fill="none" stroke="#1a1a1a" stroke-width="1.2"/>
<text x="197.70" y="345.00" font-size="9.2" textLength="49.60" lengthAdjust="spacingAndGlyphs" fill="#1a1a1a" stroke="#1a1a1a" stroke-width="0.1">Genic cluster</text>
<line x1="137.60" y1="356.50" x2="137.60" y2="369.80" stroke="#858585" stroke-width="0.9" />
<circle cx="137.60" cy="355.60" r="1.50" fill="#c8c8d0"/>
<path d="M177.20,359.0 C177.20,361.5 184.50,365.30 184.50,368.30 L184.50,369.80" fill="none" stroke="#111" stroke-width="0.8"/>
<line x1="177.20" y1="356.50" x2="177.20" y2="359.30" stroke="#b8b8bc" stroke-width="0.8" />
<path d="M181.70,359.0 C181.70,361.5 191.60,365.30 191.60,368.30 L191.60,369.80" fill="none" stroke="#111" stroke-width="0.8"/>
<line x1="181.70" y1="356.50" x2="181.70" y2="359.30" stroke="#222" stroke-width="0.8" />
<path d="M185.90,359.0 C185.90,361.5 197.90,365.30 197.90,368.30 L197.90,369.80" fill="none" stroke="#111" stroke-width="0.8"/>
<line x1="185.90" y1="356.50" x2="185.90" y2="359.30" stroke="#222" stroke-width="0.8" />
<path d="M190.00,359.0 C190.00,361.5 198.80,365.30 198.80,368.30 L198.80,369.80" fill="none" stroke="#111" stroke-width="0.8"/>
<line x1="190.00" y1="356.50" x2="190.00" y2="359.30" stroke="#222" stroke-width="0.8" />
<path d="M194.20,359.0 C194.20,361.5 199.70,365.30 199.70,368.30 L199.70,369.80" fill="none" stroke="#111" stroke-width="0.8"/>
<line x1="194.20" y1="356.50" x2="194.20" y2="359.30" stroke="#222" stroke-width="0.8" />
<path d="M198.40,359.0 C198.40,361.5 200.20,365.30 200.20,368.30 L200.20,369.80" fill="none" stroke="#111" stroke-width="0.8"/>
<line x1="198.40" y1="356.50" x2="198.40" y2="359.30" stroke="#b8b8bc" stroke-width="0.8" />
<path d="M202.50,359.0 C202.50,361.5 200.80,365.30 200.80,368.30 L200.80,369.80" fill="none" stroke="#111" stroke-width="0.8"/>
<line x1="202.50" y1="356.50" x2="202.50" y2="359.30" stroke="#222" stroke-width="0.8" />
<path d="M206.30,359.0 C206.30,361.5 201.70,365.30 201.70,368.30 L201.70,369.80" fill="none" stroke="#111" stroke-width="0.8"/>
<line x1="206.30" y1="356.50" x2="206.30" y2="359.30" stroke="#222" stroke-width="0.8" />
<path d="M210.40,359.0 C210.40,361.5 203.70,365.30 203.70,368.30 L203.70,369.80" fill="none" stroke="#111" stroke-width="0.8"/>
<line x1="210.40" y1="356.50" x2="210.40" y2="359.30" stroke="#b8b8bc" stroke-width="0.8" />
<path d="M214.40,359.0 C214.40,361.5 206.50,365.30 206.50,368.30 L206.50,369.80" fill="none" stroke="#111" stroke-width="0.8"/>
<line x1="214.40" y1="356.50" x2="214.40" y2="359.30" stroke="#222" stroke-width="0.8" />
<path d="M218.50,359.0 C218.50,361.5 219.30,365.30 219.30,368.30 L219.30,369.80" fill="none" stroke="#111" stroke-width="0.8"/>
<line x1="218.50" y1="356.50" x2="218.50" y2="359.30" stroke="#222" stroke-width="0.8" />
<path d="M222.50,359.0 C222.50,361.5 243.00,365.30 243.00,368.30 L243.00,369.80" fill="none" stroke="#111" stroke-width="0.8"/>
<line x1="222.50" y1="356.50" x2="222.50" y2="359.30" stroke="#222" stroke-width="0.8" />
<path d="M226.50,359.0 C226.50,361.5 244.50,365.30 244.50,368.30 L244.50,369.80" fill="none" stroke="#111" stroke-width="0.8"/>
<line x1="226.50" y1="356.50" x2="226.50" y2="359.30" stroke="#222" stroke-width="0.8" />
<path d="M230.50,359.0 C230.50,361.5 247.50,365.30 247.50,368.30 L247.50,369.80" fill="none" stroke="#111" stroke-width="0.8"/>
<line x1="230.50" y1="356.50" x2="230.50" y2="359.30" stroke="#222" stroke-width="0.8" />
<path d="M234.80,359.0 C234.80,361.5 249.50,365.30 249.50,368.30 L249.50,369.80" fill="none" stroke="#111" stroke-width="0.8"/>
<line x1="234.80" y1="356.50" x2="234.80" y2="359.30" stroke="#222" stroke-width="0.8" />
<path d="M238.80,359.0 C238.80,361.5 250.20,365.30 250.20,368.30 L250.20,369.80" fill="none" stroke="#111" stroke-width="0.8"/>
<line x1="238.80" y1="356.50" x2="238.80" y2="359.30" stroke="#222" stroke-width="0.8" />
<path d="M243.00,359.0 C243.00,361.5 250.80,365.30 250.80,368.30 L250.80,369.80" fill="none" stroke="#111" stroke-width="0.8"/>
<line x1="243.00" y1="356.50" x2="243.00" y2="359.30" stroke="#222" stroke-width="0.8" />
<path d="M247.00,359.0 C247.00,361.5 251.50,365.30 251.50,368.30 L251.50,369.80" fill="none" stroke="#111" stroke-width="0.8"/>
<line x1="247.00" y1="356.50" x2="247.00" y2="359.30" stroke="#222" stroke-width="0.8" />
<path d="M251.20,359.0 C251.20,361.5 255.50,365.30 255.50,368.30 L255.50,369.80" fill="none" stroke="#111" stroke-width="0.8"/>
<line x1="251.20" y1="356.50" x2="251.20" y2="359.30" stroke="#222" stroke-width="0.8" />
<path d="M255.20,359.0 C255.20,361.5 256.00,365.30 256.00,368.30 L256.00,369.80" fill="none" stroke="#111" stroke-width="0.8"/>
<line x1="255.20" y1="356.50" x2="255.20" y2="359.30" stroke="#222" stroke-width="0.8" />
<path d="M259.40,359.0 C259.40,361.5 256.50,365.30 256.50,368.30 L256.50,369.80" fill="none" stroke="#111" stroke-width="0.8"/>
<line x1="259.40" y1="356.50" x2="259.40" y2="359.30" stroke="#b8b8bc" stroke-width="0.8" />
<path d="M263.50,359.0 C263.50,361.5 263.00,365.30 263.00,368.30 L263.00,369.80" fill="none" stroke="#111" stroke-width="0.8"/>
<line x1="263.50" y1="356.50" x2="263.50" y2="359.30" stroke="#222" stroke-width="0.8" />
<path d="M267.50,359.0 C267.50,361.5 263.40,365.30 263.40,368.30 L263.40,369.80" fill="none" stroke="#111" stroke-width="0.8"/>
<line x1="267.50" y1="356.50" x2="267.50" y2="359.30" stroke="#222" stroke-width="0.8" />
<path d="M271.50,359.0 C271.50,361.5 269.40,365.30 269.40,368.30 L269.40,369.80" fill="none" stroke="#111" stroke-width="0.8"/>
<line x1="271.50" y1="356.50" x2="271.50" y2="359.30" stroke="#222" stroke-width="0.8" />
<path d="M275.60,359.0 C275.60,361.5 269.80,365.30 269.80,368.30 L269.80,369.80" fill="none" stroke="#111" stroke-width="0.8"/>
<line x1="275.60" y1="356.50" x2="275.60" y2="359.30" stroke="#222" stroke-width="0.8" />
<path d="M279.60,359.0 C279.60,361.5 271.70,365.30 271.70,368.30 L271.70,369.80" fill="none" stroke="#111" stroke-width="0.8"/>
<line x1="279.60" y1="356.50" x2="279.60" y2="359.30" stroke="#222" stroke-width="0.8" />
<path d="M283.60,359.0 C283.60,361.5 272.20,365.30 272.20,368.30 L272.20,369.80" fill="none" stroke="#111" stroke-width="0.8"/>
<line x1="283.60" y1="356.50" x2="283.60" y2="359.30" stroke="#222" stroke-width="0.8" />
<path d="M288.00,359.0 C288.00,361.5 276.90,365.30 276.90,368.30 L276.90,369.80" fill="none" stroke="#111" stroke-width="0.8"/>
<line x1="288.00" y1="356.50" x2="288.00" y2="359.30" stroke="#222" stroke-width="0.8" />
<path d="M292.00,359.0 C292.00,361.5 290.20,365.30 290.20,368.30 L290.20,369.80" fill="none" stroke="#111" stroke-width="0.8"/>
<line x1="292.00" y1="356.50" x2="292.00" y2="359.30" stroke="#b8b8bc" stroke-width="0.8" />
<path d="M296.00,359.0 C296.00,361.5 290.60,365.30 290.60,368.30 L290.60,369.80" fill="none" stroke="#111" stroke-width="0.8"/>
<line x1="296.00" y1="356.50" x2="296.00" y2="359.30" stroke="#222" stroke-width="0.8" />
<path d="M300.00,359.0 C300.00,361.5 294.80,365.30 294.80,368.30 L294.80,369.80" fill="none" stroke="#111" stroke-width="0.8"/>
<line x1="300.00" y1="356.50" x2="300.00" y2="359.30" stroke="#222" stroke-width="0.8" />
<path d="M304.10,359.0 C304.10,361.5 298.80,365.30 298.80,368.30 L298.80,369.80" fill="none" stroke="#111" stroke-width="0.8"/>
<line x1="304.10" y1="356.50" x2="304.10" y2="359.30" stroke="#222" stroke-width="0.8" />
<path d="M308.10,359.0 C308.10,361.5 299.20,365.30 299.20,368.30 L299.20,369.80" fill="none" stroke="#111" stroke-width="0.8"/>
<line x1="308.10" y1="356.50" x2="308.10" y2="359.30" stroke="#222" stroke-width="0.8" />
<circle cx="177.20" cy="355.60" r="1.60" fill="#c8c8d0"/>
<circle cx="181.70" cy="355.60" r="1.60" fill="#b0102f"/>
<circle cx="185.90" cy="355.60" r="1.60" fill="#b0102f"/>
<circle cx="190.00" cy="355.60" r="1.60" fill="#b0102f"/>
<circle cx="194.20" cy="355.60" r="1.60" fill="#b0102f"/>
<circle cx="198.40" cy="355.60" r="1.60" fill="#c8c8d0"/>
<circle cx="202.50" cy="355.60" r="1.60" fill="#b0102f"/>
<circle cx="206.30" cy="355.60" r="1.60" fill="#b0102f"/>
<circle cx="210.40" cy="355.60" r="1.60" fill="#c8c8d0"/>
<circle cx="214.40" cy="355.60" r="1.60" fill="#b0102f"/>
<circle cx="218.50" cy="355.60" r="1.60" fill="#b0102f"/>
<circle cx="222.50" cy="355.60" r="1.60" fill="#b0102f"/>
<circle cx="226.50" cy="355.60" r="1.60" fill="#b0102f"/>
<circle cx="230.50" cy="355.60" r="1.60" fill="#b0102f"/>
<circle cx="234.80" cy="355.60" r="1.60" fill="#b0102f"/>
<circle cx="238.80" cy="355.60" r="1.60" fill="#b0102f"/>
<circle cx="243.00" cy="355.60" r="1.60" fill="#b0102f"/>
<circle cx="247.00" cy="355.60" r="1.60" fill="#b0102f"/>
<circle cx="251.20" cy="355.60" r="1.60" fill="#b0102f"/>
<circle cx="255.20" cy="355.60" r="1.60" fill="#b0102f"/>
<circle cx="259.40" cy="355.60" r="1.60" fill="#c8c8d0"/>
<circle cx="263.50" cy="355.60" r="1.60" fill="#b0102f"/>
<circle cx="267.50" cy="355.60" r="1.60" fill="#b0102f"/>
<circle cx="271.50" cy="355.60" r="1.60" fill="#b0102f"/>
<circle cx="275.60" cy="355.60" r="1.60" fill="#b0102f"/>
<circle cx="279.60" cy="355.60" r="1.60" fill="#b0102f"/>
<circle cx="283.60" cy="355.60" r="1.60" fill="#b0102f"/>
<circle cx="288.00" cy="355.60" r="1.60" fill="#b0102f"/>
<circle cx="292.00" cy="355.60" r="1.60" fill="#c8c8d0"/>
<circle cx="296.00" cy="355.60" r="1.60" fill="#b0102f"/>
<circle cx="300.00" cy="355.60" r="1.60" fill="#b0102f"/>
<circle cx="304.10" cy="355.60" r="1.60" fill="#b0102f"/>
<circle cx="308.10" cy="355.60" r="1.60" fill="#b0102f"/>
<line x1="74.60" y1="369.80" x2="478.00" y2="369.80" stroke="#1a1a1a" stroke-width="1.3" />
<line x1="96.70" y1="369.80" x2="96.70" y2="372.70" stroke="#1a1a1a" stroke-width="0.9" />
<text x="82.60" y="381.03" font-size="5.5" textLength="28.20" lengthAdjust="spacingAndGlyphs" fill="#1a1a1a">128,746,000</text>
<line x1="199.60" y1="369.80" x2="199.60" y2="372.70" stroke="#1a1a1a" stroke-width="0.9" />
<text x="185.50" y="381.03" font-size="5.5" textLength="28.20" lengthAdjust="spacingAndGlyphs" fill="#1a1a1a">128,748,000</text>
<line x1="302.20" y1="369.80" x2="302.20" y2="372.70" stroke="#1a1a1a" stroke-width="0.9" />
<text x="288.10" y="381.03" font-size="5.5" textLength="28.20" lengthAdjust="spacingAndGlyphs" fill="#1a1a1a">128,750,000</text>
<line x1="404.90" y1="369.80" x2="404.90" y2="372.70" stroke="#1a1a1a" stroke-width="0.9" />
<text x="390.80" y="381.03" font-size="5.5" textLength="28.20" lengthAdjust="spacingAndGlyphs" fill="#1a1a1a">128,752,000</text>
<rect x="74.80" y="387.20" width="403.30" height="23.80" fill="#efeff2" />
<text x="317.80" y="394.78" font-size="4.8" textLength="10.30" lengthAdjust="spacingAndGlyphs" fill="#1a1a1a" stroke="#1a1a1a" stroke-width="0.1">MYC</text>
<line x1="243.90" y1="400.90" x2="438.00" y2="400.90" stroke="#fff" stroke-width="3.2" />
<line x1="243.90" y1="400.90" x2="438.00" y2="400.90" stroke="#9a9a9a" stroke-width="1.4" />
<circle cx="250.40" cy="400.90" r="0.80" fill="#1a1a1a"/>
<circle cx="258.80" cy="400.90" r="0.80" fill="#1a1a1a"/>
<circle cx="267.20" cy="400.90" r="0.80" fill="#1a1a1a"/>
<circle cx="275.60" cy="400.90" r="0.80" fill="#1a1a1a"/>
<circle cx="284.00" cy="400.90" r="0.80" fill="#1a1a1a"/>
<circle cx="292.40" cy="400.90" r="0.80" fill="#1a1a1a"/>
<circle cx="300.80" cy="400.90" r="0.80" fill="#1a1a1a"/>
<circle cx="309.20" cy="400.90" r="0.80" fill="#1a1a1a"/>
<circle cx="317.60" cy="400.90" r="0.80" fill="#1a1a1a"/>
<circle cx="326.00" cy="400.90" r="0.80" fill="#1a1a1a"/>
<circle cx="373.20" cy="400.90" r="0.80" fill="#1a1a1a"/>
<circle cx="381.02" cy="400.90" r="0.80" fill="#1a1a1a"/>
<circle cx="388.84" cy="400.90" r="0.80" fill="#1a1a1a"/>
<circle cx="396.66" cy="400.90" r="0.80" fill="#1a1a1a"/>
<circle cx="404.48" cy="400.90" r="0.80" fill="#1a1a1a"/>
<circle cx="412.30" cy="400.90" r="0.80" fill="#1a1a1a"/>
<circle cx="420.12" cy="400.90" r="0.80" fill="#1a1a1a"/>
<circle cx="427.94" cy="400.90" r="0.80" fill="#1a1a1a"/>
<rect x="215.70" y="398.80" width="28.20" height="4.00" fill="#3a3a3a" />
<rect x="327.90" y="397.10" width="39.00" height="7.40" fill="#3a3a3a" rx="0.6"/>
<line x1="438.40" y1="397.40" x2="438.40" y2="404.70" stroke="#1a1a1a" stroke-width="0.9" />
<rect x="438.40" y="399.50" width="3.40" height="3.60" fill="#1a1a1a" />
<rect x="74.80" y="414.60" width="403.30" height="80.00" fill="#eeeef2" />
<text x="53.80" y="425.60" font-size="7.0" textLength="18.00" lengthAdjust="spacingAndGlyphs" fill="#1a1a1a" stroke="#1a1a1a" stroke-width="0.1">DS027</text>
<rect x="75.00" y="416.80" width="403.10" height="12.70" fill="#f4f5fa" />
<rect x="75.00" y="417.80" width="403.10" height="10.70" fill="#d38f80" />
<rect x="75.00" y="417.80" width="403.10" height="1.20" fill="#c04e58" />
<rect x="75.00" y="427.30" width="403.10" height="1.20" fill="#c04e58" />
<polygon points="77.5,423.15 81.4,421.45 80.6,423.15 81.4,424.85" fill="#000"/>
<polygon points="474.6,423.15 470.7,421.45 471.5,423.15 470.7,424.85" fill="#000"/>
<text x="53.80" y="441.82" font-size="7.0" textLength="18.00" lengthAdjust="spacingAndGlyphs" fill="#1a1a1a" stroke="#1a1a1a" stroke-width="0.1">DS025</text>
<rect x="75.00" y="433.02" width="110.30" height="12.70" fill="#f4f5fa" />
<rect x="73.00" y="434.62" width="110.70" height="9.50" fill="#9b84ab" stroke="#7a5a8e" stroke-width="1.2" clip-path="url(#cl1)"/>
<polygon points="77.5,439.37 81.4,437.67 80.6,439.37 81.4,441.07" fill="#000"/>
<text x="91.30" y="441.57" font-size="6.3" textLength="47.50" lengthAdjust="spacingAndGlyphs" fill="#2a2a2a">8:30794096 (98 MB)</text>
<text x="53.80" y="458.04" font-size="7.0" textLength="18.00" lengthAdjust="spacingAndGlyphs" fill="#1a1a1a" stroke="#1a1a1a" stroke-width="0.1">DS016</text>
<rect x="75.00" y="449.24" width="403.10" height="12.70" fill="#f4f5fa" />
<rect x="75.00" y="450.24" width="403.10" height="10.70" fill="#f5dd98" />
<rect x="75.00" y="450.24" width="403.10" height="1.20" fill="#ecc95c" />
<rect x="75.00" y="459.74" width="403.10" height="1.20" fill="#ecc95c" />
<polygon points="77.5,455.59 81.4,453.89 80.6,455.59 81.4,457.29" fill="#000"/>
<polygon points="474.6,455.59 470.7,453.89 471.5,455.59 470.7,457.29" fill="#000"/>
<text x="53.80" y="474.26" font-size="7.0" textLength="18.00" lengthAdjust="spacingAndGlyphs" fill="#1a1a1a" stroke="#1a1a1a" stroke-width="0.1">DS012</text>
<rect x="75.00" y="465.46" width="403.10" height="12.70" fill="#f4f5fa" />
<rect x="75.00" y="466.46" width="403.10" height="10.70" fill="#f5dd98" />
<rect x="75.00" y="466.46" width="403.10" height="1.20" fill="#ecc95c" />
<rect x="75.00" y="475.96" width="403.10" height="1.20" fill="#ecc95c" />
<polygon points="77.5,471.81 81.4,470.11 80.6,471.81 81.4,473.51" fill="#000"/>
<polygon points="474.6,471.81 470.7,470.11 471.5,471.81 470.7,473.51" fill="#000"/>
<text x="53.80" y="490.48" font-size="7.0" textLength="18.00" lengthAdjust="spacingAndGlyphs" fill="#1a1a1a" stroke="#1a1a1a" stroke-width="0.1">DS007</text>
<rect x="75.00" y="481.68" width="403.10" height="12.70" fill="#f4f5fa" />
<rect x="75.00" y="482.68" width="403.10" height="10.70" fill="#f5dd98" />
<rect x="75.00" y="482.68" width="403.10" height="1.20" fill="#ecc95c" />
<rect x="75.00" y="492.18" width="403.10" height="1.20" fill="#ecc95c" />
<polygon points="77.5,488.03 81.4,486.33 80.6,488.03 81.4,489.73" fill="#000"/>
<polygon points="474.6,488.03 470.7,486.33 471.5,488.03 470.7,489.73" fill="#000"/>
<line x1="75.00" y1="496.60" x2="478.10" y2="496.60" stroke="#1a1a1a" stroke-width="1.3" />
<line x1="96.80" y1="496.60" x2="96.80" y2="499.50" stroke="#1a1a1a" stroke-width="0.9" />
<text x="80.15" y="509.01" font-size="6.6" textLength="33.30" lengthAdjust="spacingAndGlyphs" fill="#1a1a1a" stroke="#1a1a1a" stroke-width="0.18">128,746,000</text>
<line x1="199.50" y1="496.60" x2="199.50" y2="499.50" stroke="#1a1a1a" stroke-width="0.9" />
<text x="182.85" y="509.01" font-size="6.6" textLength="33.30" lengthAdjust="spacingAndGlyphs" fill="#1a1a1a" stroke="#1a1a1a" stroke-width="0.18">128,748,000</text>
<line x1="302.40" y1="496.60" x2="302.40" y2="499.50" stroke="#1a1a1a" stroke-width="0.9" />
<text x="285.75" y="509.01" font-size="6.6" textLength="33.30" lengthAdjust="spacingAndGlyphs" fill="#1a1a1a" stroke="#1a1a1a" stroke-width="0.18">128,750,000</text>
<line x1="404.90" y1="496.60" x2="404.90" y2="499.50" stroke="#1a1a1a" stroke-width="0.9" />
<text x="388.25" y="509.01" font-size="6.6" textLength="33.30" lengthAdjust="spacingAndGlyphs" fill="#1a1a1a" stroke="#1a1a1a" stroke-width="0.18">128,752,000</text>
</svg>
</body></html>
